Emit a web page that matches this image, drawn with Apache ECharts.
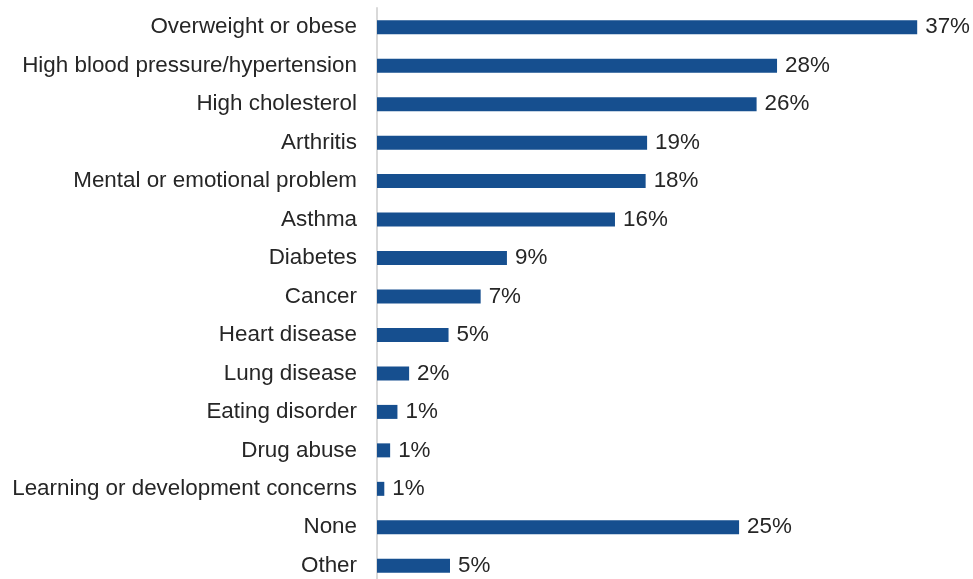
<!DOCTYPE html>
<html>
<head>
<meta charset="utf-8">
<script src="https://cdn.jsdelivr.net/npm/echarts@6/dist/echarts.min.js"></script>
<style>html,body{margin:0;padding:0;background:#fff;overflow:hidden;height:579px}#c{width:973px;height:600px}</style>
</head>
<body>
<div id="c"></div>
<script>
var categories = ["Overweight or obese","High blood pressure/hypertension","High cholesterol","Arthritis","Mental or emotional problem","Asthma","Diabetes","Cancer","Heart disease","Lung disease","Eating disorder","Drug abuse","Learning or development concerns","None","Other"];
var values = [37, 27.4, 26.0, 18.5, 18.4, 16.3, 8.9, 7.1, 4.9, 2.2, 1.4, 0.9, 0.5, 24.8, 5.0];
var valueLabels = ["37%","28%","26%","19%","18%","16%","9%","7%","5%","2%","1%","1%","1%","25%","5%"];

var chart = echarts.init(document.getElementById('c'));
chart.setOption({
  animation: false,
  grid: { left: 377, top: 8, width: 584, height: 577 },
  xAxis: { type: 'value', min: 0, max: 40, show: false },
  yAxis: {
    type: 'category', data: categories, inverse: true,
    axisLine: { show: true, lineStyle: { color: '#d9d9d9', width: 2 } },
    axisTick: { show: false },
    axisLabel: { margin: 20, color: '#262626', fontSize: 22.4, fontFamily: 'Liberation Sans, Arial, sans-serif' }
  },
  series: [{
    type: 'bar', data: values, barWidth: 14,
    itemStyle: { color: '#164F8F' },
    label: {
      show: true, position: 'right', distance: 8,
      color: '#262626', fontSize: 22.4, fontFamily: 'Liberation Sans, Arial, sans-serif',
      formatter: function (p) { return valueLabels[p.dataIndex]; }
    }
  }]
});
</script>
</body>
</html>
